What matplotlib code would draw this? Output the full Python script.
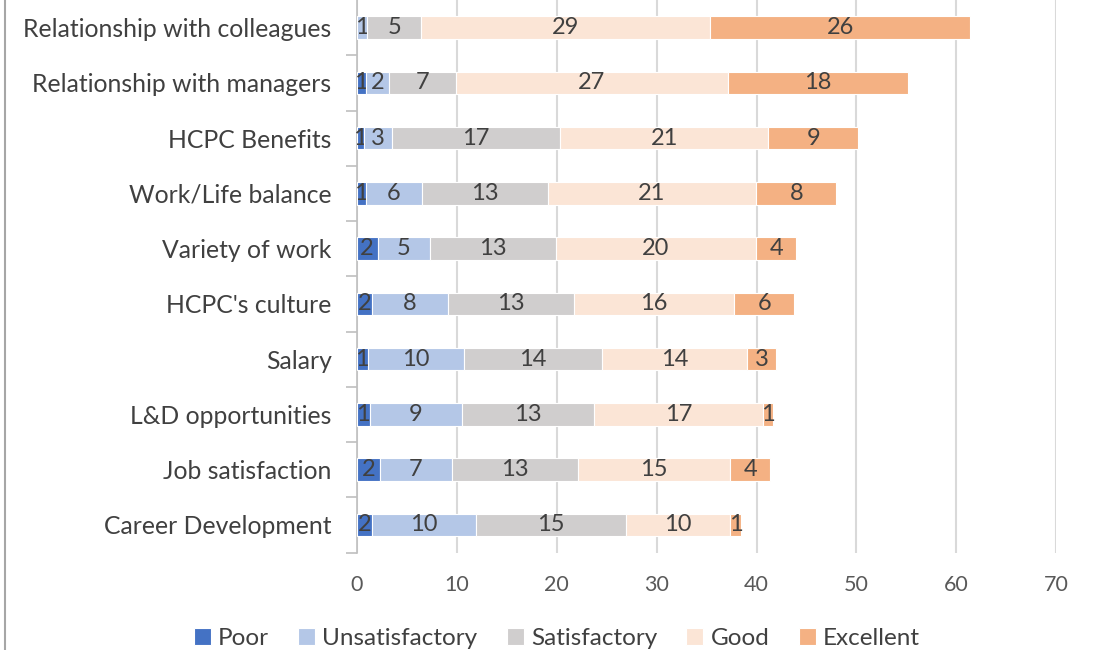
import matplotlib.pyplot as plt
from matplotlib.lines import Line2D
import numpy as np

categories = ['Career Development', 'Job satisfaction', 'L&D opportunities', 'Salary',
              "HCPC's culture", 'Variety of work', 'Work/Life balance', 'HCPC Benefits',
              'Relationship with managers', 'Relationship with colleagues']

series = ['Poor', 'Unsatisfactory', 'Satisfactory', 'Good', 'Excellent']

poor = [1.55, 2.35, 1.35, 1.15, 1.55, 2.12, 0.92, 0.75, 0.9, 0.0]
unsatisfactory = [10.4, 7.17, 9.2, 9.6, 7.57, 5.23, 5.63, 2.77, 2.36, 1.07]
satisfactory = [15.0, 12.63, 13.2, 13.8, 12.63, 12.6, 12.6, 16.83, 6.67, 5.4]
good = [10.43, 15.23, 16.87, 14.47, 16.0, 20.0, 20.8, 20.83, 27.23, 28.9]
excellent = [1.04, 4.0, 1.0, 2.96, 6.03, 4.05, 8.05, 9.0, 18.0, 26.0]

colors = ['#4472C4', '#B4C7E7', '#D0CECE', '#FBE5D6', '#F4B183']

plt.rcParams['font.family'] = ['Lato', 'DejaVu Sans']

fig = plt.figure(figsize=(10.94, 6.5), dpi=100)
ax = fig.add_axes([0.3259, 0.15, 0.6398, 0.85])

y = np.arange(len(categories))
left = np.zeros(len(categories))
for name, vals, col in zip(series, [poor, unsatisfactory, satisfactory, good, excellent], colors):
    vals = np.array(vals)
    bars = ax.barh(y, vals, height=0.41, left=left, color=col, edgecolor='white',
                   linewidth=0.8, label=name, zorder=3)
    labels = ['%.0f' % v if v > 0 else '' for v in vals]
    ax.bar_label(bars, labels=labels, label_type='center', fontsize=17, color='#404040')
    left += vals

ax.set_xlim(0, 70)
ax.set_ylim(-0.5, 9.5)
ax.set_xticks(np.arange(0, 71, 10))
ax.set_yticks(y)
ax.set_yticklabels(categories)
ax.set_yticks(np.arange(-0.5, 9.5, 1), minor=True)
ax.tick_params(axis='y', which='major', length=0, pad=18, labelsize=17.8, labelcolor='#404040')
ax.tick_params(axis='y', which='minor', length=8, color='#bfbfbf', width=1.2)
ax.tick_params(axis='x', length=0, pad=16, labelsize=15.5, labelcolor='#595959')

ax.grid(axis='x', color='#d9d9d9', linewidth=1.5, zorder=0)
for s in ['top', 'right', 'bottom']:
    ax.spines[s].set_visible(False)
ax.spines['left'].set_color('#bfbfbf')
ax.spines['left'].set_linewidth(1.2)

ax.legend(loc='center', bbox_to_anchor=(0.286, -0.155), ncol=5, frameon=False,
          fontsize=17.5, handlelength=0.7, handleheight=0.7, handletextpad=0.3,
          columnspacing=1.2, labelcolor='#404040')

fig.add_artist(Line2D([0.005, 0.005], [0, 1], transform=fig.transFigure,
                      color='#a6a6a6', linewidth=1.5))

plt.savefig('out.png', dpi=100)
